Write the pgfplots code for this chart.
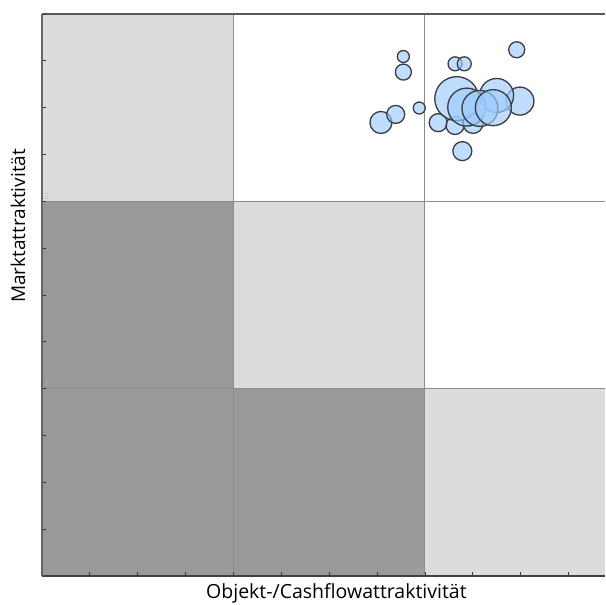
\documentclass[border=0pt]{standalone}
\usepackage{fontspec}
\setmainfont{Open Sans}
\usepackage{pgfplots}
\usepackage{pgfplotstable}
\pgfplotsset{compat=1.18}
\definecolor{cellL}{HTML}{DCDCDC}
\definecolor{cellD}{HTML}{999999}
\definecolor{gridc}{HTML}{8C8C8C}
\definecolor{bub}{HTML}{9CCDFF}
\definecolor{edge}{HTML}{3C3C3C}
\definecolor{faintL}{HTML}{BDBDBD}
\definecolor{faintD}{HTML}{ABABAB}

% bubble positions (x, y) and radius in pt
\pgfplotstableread{
x     y     r
1.887 2.773 6
1.887 2.690 8
2.157 2.734 7
2.205 2.734 7
2.479 2.809 8
1.770 2.421 11
1.847 2.464 9
1.970 2.498 6
2.069 2.420 9
2.195 2.268 9.5
2.157 2.405 9
2.251 2.416 10
2.496 2.535 14
2.374 2.565 17
2.166 2.548 22
2.218 2.503 19
2.287 2.496 18
2.357 2.500 18
}\bubbles

\begin{document}
\begin{tikzpicture}
\begin{axis}[
    scale only axis,
    width=563pt, height=562pt,
    xmin=0, xmax=2.94, ymin=0, ymax=3,
    clip=false,
    axis on top,
    axis x line*=bottom,
    axis y line*=left,
    x axis line style={-, line width=1.4pt, color=black!75},
    y axis line style={-, line width=2pt, color=black!60},
    xtick distance=0.25, ytick distance=0.25,
    xticklabels={}, yticklabels={},
    tick align=inside,
    major tick length=4pt,
    tick style={black!80, line width=0.8pt},
]
% matrix cells
\addplot[fill=cellL, draw=none] coordinates {(0,2) (1,2) (1,3) (0,3)} -- cycle;
\addplot[fill=cellD, draw=none] coordinates {(0,1) (1,1) (1,2) (0,2)} -- cycle;
\addplot[fill=cellL, draw=none] coordinates {(1,1) (2,1) (2,2) (1,2)} -- cycle;
\addplot[fill=cellD, draw=none] coordinates {(0,0) (2,0) (2,1) (0,1)} -- cycle;
\addplot[fill=cellL, draw=none] coordinates {(2,0) (2.94,0) (2.94,1) (2,1)} -- cycle;
% grid lines
\addplot[gridc, line width=1pt] coordinates {(1,0) (1,3)};
\addplot[gridc, line width=1pt] coordinates {(2,0) (2,3)};
\addplot[gridc, line width=1pt] coordinates {(0,1) (2.94,1)};
\addplot[gridc, line width=1pt] coordinates {(0,2) (2.94,2)};
\draw[black!65, line width=1.4pt] (rel axis cs:0,1) -- (rel axis cs:1,1);
% faint labels
\node[faintL, font=\fontsize{9}{9}\selectfont, anchor=south west, inner sep=2pt] at (axis cs:0,2) {2};
\node[faintD, font=\fontsize{9}{9}\selectfont, anchor=south west, inner sep=2pt] at (axis cs:0,1) {1};
\node[faintD, font=\fontsize{9}{9}\selectfont, rotate=90, anchor=south west, inner sep=2pt] at (axis cs:1,0) {1};
\node[faintD, font=\fontsize{9}{9}\selectfont, rotate=90, anchor=south west, inner sep=2pt] at (axis cs:2,0) {2};
% bubbles
\addplot[scatter, only marks, mark=*,
    scatter/use mapped color={draw=edge, fill=bub},
    visualization depends on={\thisrow{r} \as \perpointmarksize},
    scatter/@pre marker code/.append style={/tikz/mark size=\perpointmarksize},
    mark options={fill opacity=0.65, line width=1.3pt},
] table {\bubbles};
% axis titles
\node[font=\fontsize{19.5}{22}\selectfont] at ([yshift=-17pt]rel axis cs:0.523,0) {Objekt-/Cashflowattraktivität};
\node[font=\fontsize{19}{22}\selectfont, rotate=90] at ([xshift=-24pt]rel axis cs:0,0.623) {Marktattraktivität};
\end{axis}
\pgfresetboundingbox
\path[use as bounding box] (-42pt,-29pt) rectangle (563pt,576pt);
\end{tikzpicture}
\end{document}
